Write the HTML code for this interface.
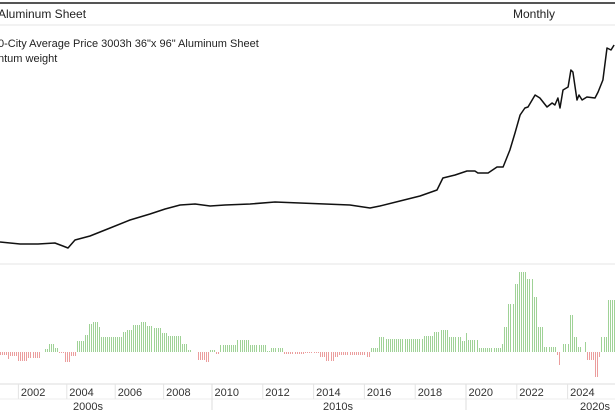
<!DOCTYPE html>
<html><head><meta charset="utf-8"><style>
html,body{margin:0;padding:0;background:#fff;width:615px;height:410px;overflow:hidden;font-family:"Liberation Sans",sans-serif;}
svg text{font-family:"Liberation Sans",sans-serif;}
</style></head><body>
<svg id="chart" width="615" height="410" viewBox="0 0 615 410" xmlns="http://www.w3.org/2000/svg">
<line x1="0" y1="3" x2="615" y2="3" stroke="#555" stroke-width="2"/>
<text x="-2" y="18" font-size="12" fill="#222">Aluminum Sheet</text>
<text x="513" y="18" font-size="12" fill="#222">Monthly</text>
<line x1="0" y1="25" x2="615" y2="25" stroke="#e6e6e6"/>
<text x="-2" y="47" font-size="11" fill="#222">0-City Average Price 3003h 36"x 96" Aluminum Sheet</text>
<text x="-2" y="62" font-size="11" fill="#222">ntum weight</text>
<line x1="0" y1="264" x2="615" y2="264" stroke="#e6e6e6"/>
<g id="bars" shape-rendering="crispEdges"></g>
<path id="line" fill="none" stroke="#111" stroke-width="1.5" stroke-linejoin="round"/>
<g id="axis"></g>
</svg>
<script>
const priceYears=[2001.24,2002.07,2002.81,2003.51,2003.84,2004.05,2004.34,2004.96,2005.79,2006.61,2007.44,2008.06,2008.68,2009.30,2009.92,2010.51,2011.50,2012.48,2013.46,2014.45,2015.43,2016.22,2016.61,2017.40,2018.19,2018.86,2019.09,2019.57,2020.04,2020.35,2020.47,2020.87,2021.22,2021.46,2021.73,2021.93,2022.13,2022.32,2022.44,2022.72,2022.91,2023.19,2023.39,2023.50,2023.62,2023.70,2023.82,2024.02,2024.13,2024.21,2024.37,2024.45,2024.57,2024.76,2025.08,2025.20,2025.39,2025.55,2025.71,2025.83];
const priceValues=[20,18,18,19,16,14,22,26,34,42,48,53,57,58,56,57,58,60,59,58,57,54,56,61,66,72,84,87,91,91,89,89,95,95,112,129,147,154,155,167,164,155,159,157,164,154,172,175,192,190,162,167,162,165,164,170,182,214,212,217];
const momentumStarts=[2001.24,2001.53,2001.65,2001.94,2002.36,2002.89,2003.02,2003.22,2003.43,2003.64,2003.84,2004.13,2004.34,2004.67,2004.88,2005.08,2005.25,2005.37,2006.28,2006.49,2006.74,2007.02,2007.31,2007.56,2007.85,2008.14,2008.68,2008.97,2009.09,2009.34,2009.71,2009.88,2010.12,2010.31,2010.98,2011.42,2012.09,2012.32,2012.76,2013.66,2014.17,2014.49,2014.80,2014.96,2016.02,2016.18,2016.54,2016.77,2018.31,2018.70,2018.98,2019.25,2019.76,2019.96,2020.08,2020.43,2021.34,2021.46,2021.65,2021.85,2022.05,2022.40,2022.64,2022.83,2023.03,2023.50,2023.66,2023.74,2023.78,2024.02,2024.21,2024.41,2024.57,2024.65,2024.72,2025.04,2025.20,2025.31,2025.51];
const momentumValues=[-3,-7,-4,-9,-6,0,3,8,4,-1,-10,-4,11,17,28,30,25,15,20,22,27,30,26,24,19,16,8,2,0,-8,-10,2,-2,7,12,7,1,4,-2,-1,-5,-9,-5,-3,-5,4,15,13,16,20,22,15,11,19,12,4,8,25,48,68,80,73,55,25,5,-3,-13,0,8,37,15,5,0,10,-8,-25,-5,15,52];
const momentumEnd=2025.87;
const xTicks=[2002,2004,2006,2008,2010,2012,2014,2016,2018,2020,2022,2024];
const decades=["2000s","2010s","2020s"];
const decadeStarts=[2000,2010,2020];

const NS="http://www.w3.org/2000/svg";
function x(t){return t<2010?212-(2010-t)*24.2:212+(t-2010)*25.4;}
function yPrice(v){return 262-v;}
function yMom(v){return 352-v;}

let d="";
priceYears.forEach((t,i)=>{d+=(i?"L":"M")+x(t).toFixed(1)+","+yPrice(priceValues[i]).toFixed(1);});
document.getElementById("line").setAttribute("d",d);

const bars=document.getElementById("bars");
for(let t=2001.25;t<momentumEnd;t+=1/12){
  let idx=-1;
  for(let i=0;i<momentumStarts.length;i++){if(momentumStarts[i]<=t)idx=i;}
  if(idx<0)continue;
  const v=momentumValues[idx];
  if(v===0)continue;
  const r=document.createElementNS(NS,"rect");
  
  
  r.setAttribute("x",Math.round(x(t)));
  r.setAttribute("width","1");
  r.setAttribute("y",Math.min(yMom(v),yMom(0)));
  r.setAttribute("height",Math.abs(v));
  r.setAttribute("fill",v>=0?"#9fd296":"#eb9d9d");
  bars.appendChild(r);
}

const ax=document.getElementById("axis");
function add(tag,attrs,text){const e=document.createElementNS(NS,tag);for(const k in attrs)e.setAttribute(k,attrs[k]);if(text)e.textContent=text;ax.appendChild(e);return e;}
const base=add("line",{x1:0,y1:384,x2:615,y2:384,stroke:"#ddd"});


const mid=add("line",{x1:0,y1:399,x2:615,y2:399,stroke:"#eee"});


xTicks.forEach(yr=>{
  const g=add("line",{x1:x(yr),y1:384,x2:x(yr),y2:399,stroke:"#e4e4e4"});
  
  
  const tx=add("text",{x:x(yr)+2.5,y:396,"font-size":11,fill:"#333"},String(yr));
  
  
});
const decadeCenters=[88,338,595];
decades.forEach((lab,i)=>{
  const s=x(decadeStarts[i]);
  const sep=add("line",{x1:s,y1:384,x2:s,y2:410,stroke:"#ddd"});
  
  
  const tx=add("text",{x:decadeCenters[i],y:410,"font-size":11,fill:"#333","text-anchor":"middle"},lab);
  
  
});
</script>
</body></html>
